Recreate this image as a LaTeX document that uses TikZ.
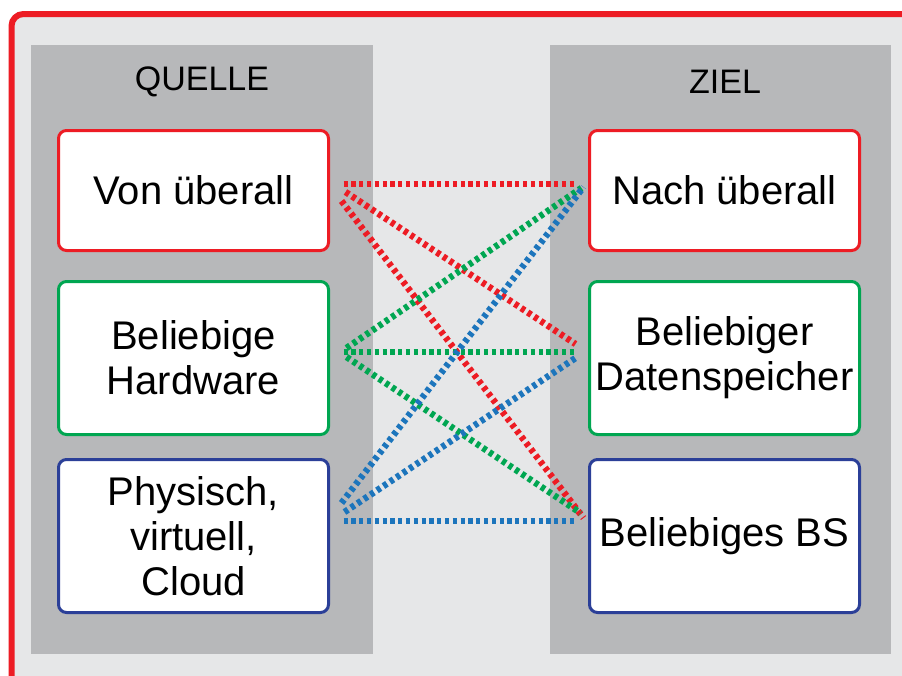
\documentclass[tikz,border=0pt]{standalone}
\usepackage{fontspec}
\setmainfont{Liberation Sans}
\usetikzlibrary{calc}
\definecolor{cred}{HTML}{ED1C24}
\definecolor{cgreen}{HTML}{00A651}
\definecolor{cblue}{HTML}{2B3F98}
\definecolor{cdot}{HTML}{1C75BC}
\definecolor{cbg}{HTML}{E6E7E8}
\definecolor{cpanel}{HTML}{B7B8BA}
\tikzset{
  panel/.style={fill=cpanel, draw=none, inner sep=0pt},
  paneltitle/.style={font=\fontsize{34}{38}\selectfont, inner sep=0pt},
  box/.style={fill=white, line width=3pt, rounded corners=8pt, minimum width=270pt, align=center, inner sep=0pt, font=\fontsize{40}{45}\selectfont},
  dotline/.style={line width=6.5pt, dash pattern=on 4.2pt off 3.6pt},
}
\begin{document}
\begin{tikzpicture}[x=1pt,y=-1pt]
\useasboundingbox (0,0) rectangle (902,675);
\clip (0,0) rectangle (902,675);
\fill[white] (0,0) rectangle (902,675);
\draw[cred, line width=6pt, fill=cbg, rounded corners=12pt] (11.5,14) rectangle (940,710);
% panels
\node[panel, minimum width=342pt, minimum height=609pt] (lp) at (202,349.5) {};
\node[panel, minimum width=341pt, minimum height=609pt] (rp) at (720.5,349.5) {};
\node[paneltitle] (lt) at (202,82) {QUELLE};
\node[paneltitle] (rt) at (725,82) {ZIEL};
% left boxes
\node[box, draw=cred, minimum height=120pt] (v1) at (193.5,190.5) {Von überall};
\node[box, draw=cgreen, minimum height=153pt] (hw) at (193.5,358) {Beliebige\\Hardware};
\node[box, draw=cblue, minimum height=153pt] (ph) at (193.5,536) {Physisch,\\virtuell,\\Cloud};
% right boxes
\node[box, draw=cred, minimum height=120pt] (n1) at (724.5,190.5) {Nach überall};
\node[box, draw=cgreen, minimum height=153pt] (ds) at (724.5,358) {Beliebiger\\Datenspeicher};
\node[box, draw=cblue, minimum height=153pt] (bs) at (724.5,536) {\raisebox{7pt}{Beliebiges BS}};
% red connectors
\draw[dotline, cred] ($(v1.east)+(13.5,-6.5)$) -- ($(n1.west)+(-12.5,-6.5)$);
\draw[dotline, cred] ($(v1.east)+(15.5,1.5)$) -- ($(ds.west)+(-12.5,-14)$);
\draw[dotline, cred] ($(v1.east)+(11.5,10.5)$) -- ($(bs.west)+(-4.5,-18)$);
% green connectors
\draw[dotline, cgreen] ($(hw.east)+(16.5,-10)$) -- ($(n1.west)+(-6.5,-2.5)$);
\draw[dotline, cgreen] ($(hw.east)+(13.5,-6)$) -- ($(ds.west)+(-12.5,-6)$);
\draw[dotline, cgreen] ($(hw.east)+(16.5,-1)$) -- ($(bs.west)+(-7.5,-23)$);
% blue connectors
\draw[dotline, cdot] ($(ph.east)+(11.5,-33)$) -- ($(n1.west)+(-4.5,-3.5)$);
\draw[dotline, cdot] ($(ph.east)+(14.5,-24)$) -- ($(ds.west)+(-12.5,0)$);
\draw[dotline, cdot] ($(ph.east)+(13.5,-15)$) -- ($(bs.west)+(-12.5,-15)$);
\end{tikzpicture}
\end{document}
